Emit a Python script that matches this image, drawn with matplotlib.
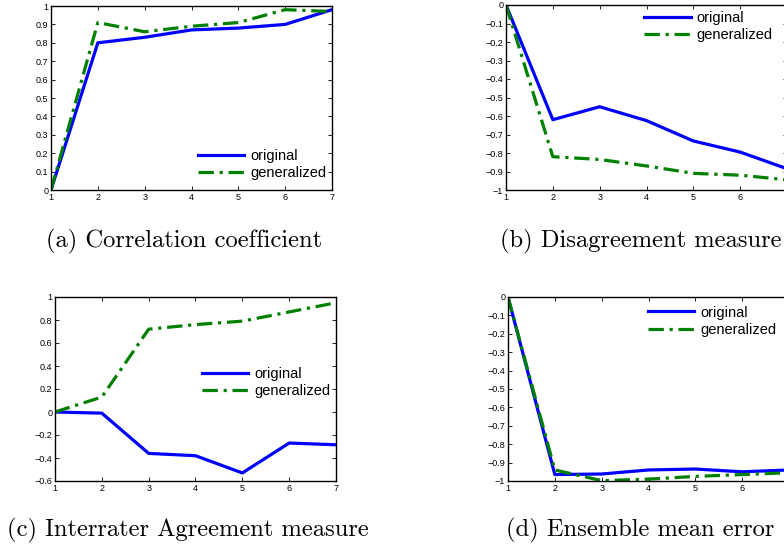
import matplotlib
matplotlib.use("Agg")
import matplotlib.pyplot as plt
import numpy as np

x = [1, 2, 3, 4, 5, 6, 7]

corr_original = [0.0, 0.80, 0.83, 0.87, 0.88, 0.90, 0.98]
corr_generalized = [0.0, 0.91, 0.86, 0.89, 0.91, 0.98, 0.97]

disagree_original = [0.0, -0.62, -0.55, -0.625, -0.735, -0.795, -0.885]
disagree_generalized = [0.0, -0.82, -0.835, -0.87, -0.91, -0.92, -0.945]

interrater_original = [0.0, -0.01, -0.36, -0.38, -0.53, -0.27, -0.285]
interrater_generalized = [0.0, 0.13, 0.72, 0.76, 0.79, 0.87, 0.95]

ensemble_original = [0.0, -0.965, -0.962, -0.94, -0.935, -0.95, -0.94]
ensemble_generalized = [0.0, -0.94, -0.998, -0.99, -0.975, -0.965, -0.955]

captions = ["(a) Correlation coefficient", "(b) Disagreement measure",
            "(c) Interrater Agreement measure", "(d) Ensemble mean error"]
legend_labels = ["original", "generalized"]

W, H = 784, 547
fig = plt.figure(figsize=(W / 100, H / 100), dpi=100)

def rect(l, t, r, b):
    return [l / W, 1 - b / H, (r - l) / W, (b - t) / H]

tickfont = "Liberation Sans"

def fmt(v):
    v = float(v) + 0.0
    if abs(v) < 1e-9:
        return "0"
    return ("%g" % v).replace("-", "\u2212")

def make_ax(box, orig, gen, ylim, yticks, legend_loc, legend_anchor):
    ax = fig.add_axes(rect(*box))
    ax.plot(x, orig, color=(0, 0, 1), lw=2.3, label=legend_labels[0])
    ax.plot(x, gen, color=(0, 0.5, 0), lw=2.3, dashes=(4.8, 1.8, 1.0, 1.8), label=legend_labels[1])
    ax.set_xlim(1, 7)
    ax.set_ylim(*ylim)
    ax.set_xticks(x)
    ax.set_xticklabels([str(v) for v in x], fontfamily=tickfont, fontsize=6.5)
    ax.set_yticks(yticks)
    ax.set_yticklabels([fmt(v) for v in yticks], fontfamily=tickfont, fontsize=6.5)
    ax.tick_params(direction="in", top=True, right=True, length=3, width=0.6, pad=2)
    for s in ax.spines.values():
        s.set_linewidth(1.0)
    ax.legend(loc=legend_loc, bbox_to_anchor=legend_anchor, frameon=False,
              prop={"family": tickfont, "size": 10.5}, handlelength=3.2,
              handletextpad=0.4, labelspacing=0.25, borderpad=0.2, borderaxespad=0.2)
    return ax

# (a)
make_ax((51, 6, 332, 190), corr_original, corr_generalized, (0, 1),
        np.round(np.arange(0, 1.01, 0.1), 1), "lower right", (1.0, 0.02))
# (b)
make_ax((506, 5, 787, 190), disagree_original, disagree_generalized, (-1, 0),
        np.round(np.arange(-1, 0.01, 0.1), 1), "upper right", (0.97, 1.0))
# (c)
make_ax((55, 297, 336, 481), interrater_original, interrater_generalized, (-0.6, 1),
        np.round(np.arange(-0.6, 1.01, 0.2), 1), "center right", (1.0, 0.535))
# (d)
make_ax((508, 297, 789, 481), ensemble_original, ensemble_generalized, (-1, 0),
        np.round(np.arange(-1, 0.01, 0.1), 1), "upper right", (0.975, 0.985))

capfont = "cmr10"
fig.text(184.5 / W, 1 - 241 / H, captions[0], ha="center", va="center", fontfamily=capfont, fontsize=17.7)
fig.text(641 / W, 1 - 241 / H, captions[1], ha="center", va="center", fontfamily=capfont, fontsize=17.7)
fig.text(188 / W, 1 - 530 / H, captions[2], ha="center", va="center", fontfamily=capfont, fontsize=17.7)
fig.text(640 / W, 1 - 530 / H, captions[3], ha="center", va="center", fontfamily=capfont, fontsize=17.7)

fig.savefig("out.png", dpi=100)
